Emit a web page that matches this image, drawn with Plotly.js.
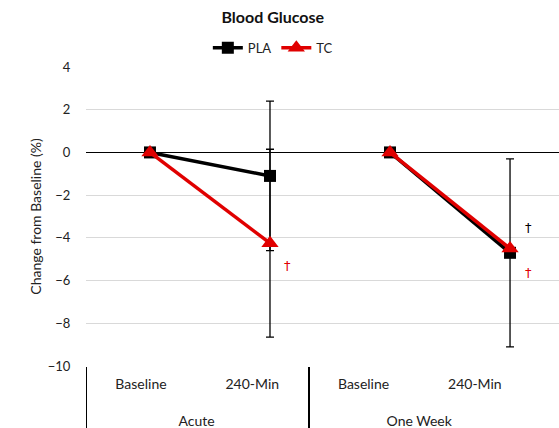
<!DOCTYPE html>
<html>
<head>
<meta charset="utf-8">
<script src="https://cdn.plot.ly/plotly-3.0.1.min.js"></script>
<style>html,body{margin:0;padding:0;background:#fff;}#chart{width:559px;height:428px;}</style>
</head>
<body>
<div id="chart"></div>
<script>
const groups = ["Acute", "Acute", "One Week", "One Week"];
const timepoints = ["Baseline", "240-Min", "Baseline", "240-Min"];
const plaValues = [0, -1.1, 0, -4.7];
const plaErrors = [0, 3.5, 0, 4.4];
const tcValues = [0, -4.25, 0, -4.5];
const tcErrors = [0, 4.4, 0, 0];
const yTickValues = [-10, -8, -6, -4, -2, 0, 2, 4];
const daggerIndex = [1, 3, 3];
const daggerY = [-5.3, -3.5, -5.6];
const daggerSeries = ["TC", "PLA", "TC"];

const FONT = "Lato, 'Liberation Sans', sans-serif";
const RED = "#e00000";
const BLACK = "#000000";
const cats = groups.map((g, i) => g + " " + timepoints[i]);
const idx = timepoints.map((_, i) => i);
const groupNames = groups.filter((g, i) => groups.indexOf(g) === i);
const groupIdx = groupNames.map(g => idx.filter(i => groups[i] === g));
const groupCenters = groupIdx.map(a => (a[0] + a[a.length - 1]) / 2);
const groupStarts = groupIdx.map(a => a[0] - 0.5);

function seriesTraces(name, values, errors, color, symbol, size, errColor) {
  return groupIdx.map((ids, k) => ({
    x: ids.map(i => cats[i]), y: ids.map(i => values[i]), name: name,
    legendgroup: name, showlegend: k === 0,
    type: "scatter", mode: "lines+markers",
    line: {color: color, width: 3.5},
    marker: {symbol: symbol, size: size, color: color},
    error_y: {type: "data", array: ids.map(i => errors[i]), visible: true, color: errColor, thickness: 1.3, width: 4},
    xaxis: "x", yaxis: "y", hoverinfo: "y"
  }));
}

const dummy = ax => ({x: idx, y: tcValues, type: "scatter", mode: "none", showlegend: false,
                      hoverinfo: "skip", xaxis: ax, yaxis: "y"});

const data = [dummy("x2"), dummy("x3"), dummy("x4")]
  .concat(seriesTraces("PLA", plaValues, plaErrors, BLACK, "square", 12, BLACK))
  .concat(seriesTraces("TC", tcValues, tcErrors, RED, "triangle-up", 15, BLACK));

const annotations = daggerIndex.map((i, k) => ({
  x: cats[i], y: daggerY[k], xref: "x", yref: "y", text: "†", showarrow: false,
  xshift: 18, font: {family: "'DejaVu Sans', sans-serif", size: 13, color: daggerSeries[k] === "TC" ? RED : BLACK}
}));

const labelRange = [-0.494, 3.756];
const layout = {
  width: 559, height: 428,
  margin: {l: 86, r: 0, t: 67, b: 62},
  paper_bgcolor: "#fff", plot_bgcolor: "#fff",
  font: {family: FONT, size: 13, color: "#222"},
  title: {text: "<b>Blood Glucose</b>", font: {family: FONT, size: 16, color: "#111"},
          x: 0.488, xref: "container", xanchor: "center", y: 0.96, yref: "container", yanchor: "middle"},
  showlegend: true,
  legend: {orientation: "h", x: 0.395, xanchor: "center", y: 1.064, yanchor: "middle",
           font: {family: FONT, size: 13, color: "#222"}, itemwidth: 30, tracegroupgap: 0,
           bgcolor: "rgba(0,0,0,0)"},
  xaxis: {type: "category", categoryorder: "array", categoryarray: cats, range: [-0.533, 3.408],
          showticklabels: false, showgrid: false, zeroline: false, showline: false, ticks: "",
          anchor: "y", domain: [0, 1], fixedrange: true},
  xaxis2: {type: "linear", overlaying: "x", anchor: "y", side: "bottom", range: labelRange,
           tickvals: idx, ticktext: timepoints, showgrid: false, zeroline: false, showline: false,
           ticks: "outside", ticklen: 5, tickcolor: "rgba(0,0,0,0)",
           tickfont: {family: FONT, size: 14, color: "#222"}, fixedrange: true},
  xaxis3: {type: "linear", overlaying: "x", anchor: "y", side: "bottom", range: [-0.503, 3.75],
           tickvals: groupStarts, ticktext: groupStarts.map(() => ""), showgrid: false, zeroline: false,
           showline: false, ticks: "outside", ticklen: 64, tickwidth: 1.5, tickcolor: "#000",
           showticklabels: false, fixedrange: true},
  xaxis4: {type: "linear", overlaying: "x", anchor: "y", side: "bottom", range: labelRange,
           tickvals: groupCenters, ticktext: groupNames, showgrid: false, zeroline: false, showline: false,
           ticks: "outside", ticklen: 42, tickcolor: "rgba(0,0,0,0)",
           tickfont: {family: FONT, size: 14, color: "#222"}, fixedrange: true},
  yaxis: {range: [-10, 4], tickvals: yTickValues, showgrid: true, gridcolor: "#d9d9d9", gridwidth: 1,
          zeroline: true, zerolinecolor: "#000", zerolinewidth: 1.5, showline: false,
          ticks: "outside", ticklen: 12, tickcolor: "rgba(0,0,0,0)",
          tickfont: {family: FONT, size: 13, color: "#222"},
          title: {text: "Change from Baseline (%)", font: {family: FONT, size: 14, color: "#222"}, standoff: 2},
          fixedrange: true},
  annotations: annotations
};

Plotly.newPlot("chart", data, layout, {displayModeBar: false, staticPlot: true});
</script>
</body>
</html>
